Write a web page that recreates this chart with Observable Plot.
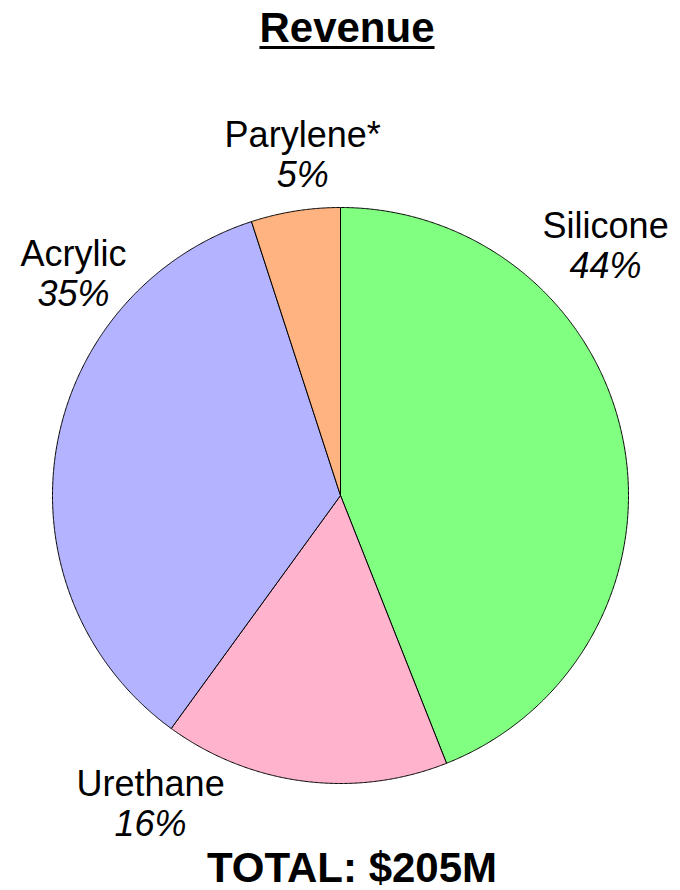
<!DOCTYPE html>
<html>
<head>
<meta charset="utf-8">
<script src="https://cdn.jsdelivr.net/npm/d3@7"></script>
<script src="https://cdn.jsdelivr.net/npm/@observablehq/plot@0.6"></script>
<style>
  html, body { margin: 0; padding: 0; background: #fff; }
  #wrap { position: relative; width: 680px; height: 890px; font-family: "Liberation Sans", Arial, sans-serif; }
  #title { position: absolute; left: 7px; top: 7px; width: 680px; text-align: center; font-size: 42px; line-height: 42px; font-weight: bold; }
  #title span { text-decoration: underline; text-decoration-thickness: 2.5px; text-underline-offset: 4px; }
  #chart { position: absolute; left: 0; top: 60px; }
  #chart svg { background: transparent; }
  #caption { position: absolute; left: 12px; top: 847px; width: 680px; text-align: center; font-size: 42px; line-height: 42px; font-weight: bold; }
</style>
</head>
<body>
<div id="wrap">
  <div id="title"><span>Revenue</span></div>
  <div id="chart"></div>
  <div id="caption">TOTAL: $205M</div>
</div>
<script>
// ---- data ----
const names = ["Silicone", "Urethane", "Acrylic", "Parylene*"];
const shares = [44, 16, 35, 5];
const pctLabels = ["44%", "16%", "35%", "5%"];
const colors = ["#80FF80", "#FFB3CC", "#B3B3FF", "#FFB380"];
// label placement (degrees clockwise from 12 o'clock, radius multiple)
const labelAngle = [44.6, 213.3, 312.1, 354];
const labelRadius = [1.311, 1.201, 1.249, 1.257];

// ---- layout ----
const W = 680, H = 790, R = 288, CX = 340, CY = 435;

const rows = names.map((n, i) => ({name: n, value: shares[i], pct: pctLabels[i]}));
const arcs = d3.pie().sort(null).value(d => d.value).startAngle(0).endAngle(2 * Math.PI)(rows);

const pts = [];
for (const a of arcs) {
  const n = a.data.name;
  pts.push({name: n, x: 0, y: 0});
  const step = Math.PI / 720;
  for (let t = a.startAngle; t < a.endAngle; t += step) pts.push({name: n, x: Math.sin(t), y: Math.cos(t)});
  pts.push({name: n, x: Math.sin(a.endAngle), y: Math.cos(a.endAngle)});
  pts.push({name: n, x: 0, y: 0});
}

const labels = rows.map((d, i) => {
  const t = labelAngle[i] * Math.PI / 180;
  return {name: d.name, pct: d.pct, x: labelRadius[i] * Math.sin(t), y: labelRadius[i] * Math.cos(t)};
});

const font = "Liberation Sans, Arial, sans-serif";
const chart = Plot.plot({
  width: W,
  height: H,
  margin: 0,
  style: {background: "transparent"},
  x: {domain: [-CX / R, (W - CX) / R], range: [0, W], axis: null},
  y: {domain: [-(H - CY) / R, CY / R], range: [H, 0], axis: null},
  color: {domain: names, range: colors},
  marks: [
    Plot.line(pts, {x: "x", y: "y", z: "name", fill: "name", stroke: "#000", strokeWidth: 1, strokeLinejoin: "round", curve: "linear"}),
    Plot.text(labels, {x: "x", y: "y", text: "name", fontSize: 36, fontFamily: font, fill: "#000", textAnchor: "middle", lineAnchor: "middle"}),
    Plot.text(labels, {x: "x", y: "y", text: "pct", dy: 40, fontSize: 36, fontFamily: font, fontStyle: "italic", fill: "#000", textAnchor: "middle", lineAnchor: "middle"})
  ]
});
document.getElementById("chart").appendChild(chart);
</script>
</body>
</html>
